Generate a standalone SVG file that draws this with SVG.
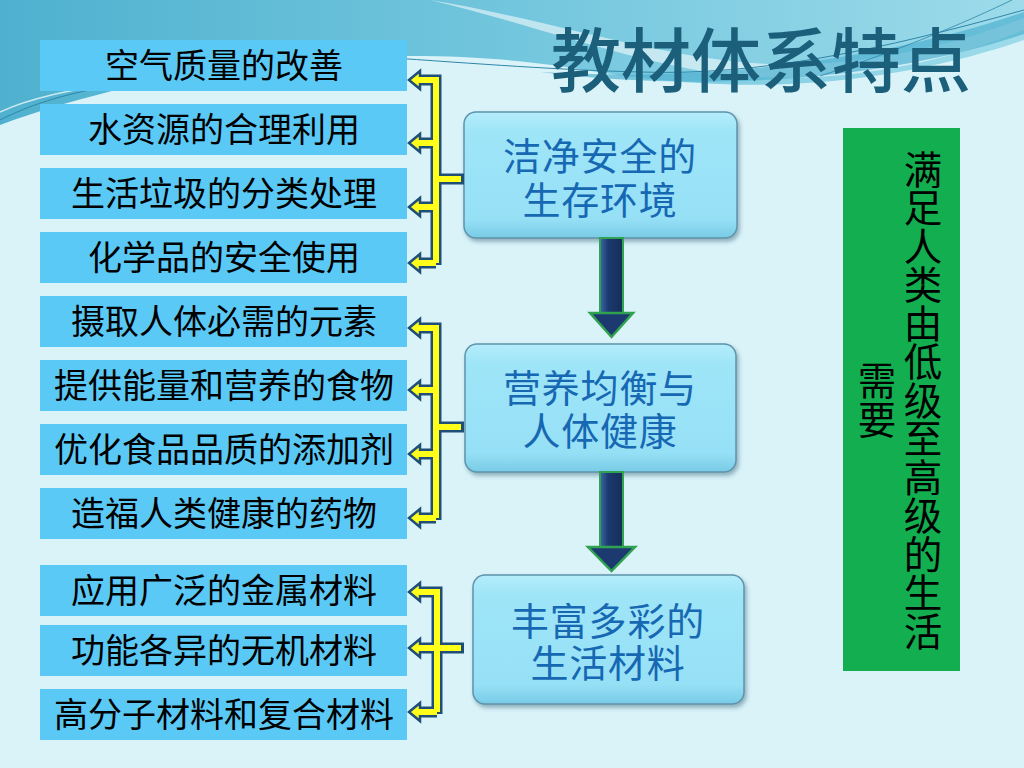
<svg xmlns="http://www.w3.org/2000/svg" width="1024" height="768" viewBox="0 0 1024 768">
<defs>
<linearGradient id="topg" x1="0" y1="0" x2="1" y2="0">
<stop offset="0" stop-color="#4fb1cf"/>
<stop offset="0.5" stop-color="#72c6dd"/>
<stop offset="1" stop-color="#9ddbea"/>
</linearGradient>
<linearGradient id="boxg" x1="0" y1="0" x2="0" y2="1">
<stop offset="0" stop-color="#b4edfb"/>
<stop offset="0.15" stop-color="#9fe5f8"/>
<stop offset="0.85" stop-color="#96e0f6"/>
<stop offset="1" stop-color="#78cbe6"/>
</linearGradient>
<linearGradient id="shaftg" x1="0" y1="0" x2="1" y2="0">
<stop offset="0" stop-color="#3d6aa8"/>
<stop offset="0.35" stop-color="#1c3a70"/>
<stop offset="1" stop-color="#152c58"/>
</linearGradient>
<filter id="sh" x="-10%" y="-10%" width="130%" height="130%">
<feDropShadow dx="2" dy="3" stdDeviation="2" flood-color="#2a5a70" flood-opacity="0.45"/>
</filter>
<style>
.lb{fill:#5bc9f6}
.lt{font-family:"Noto Sans CJK SC","Noto Sans",sans-serif;font-size:34px;fill:#000;text-anchor:middle}
.cb{fill:url(#boxg);stroke:#5f93ab;stroke-width:1.5;filter:url(#sh)}
.ct{font-family:"Noto Sans CJK SC","Noto Sans",sans-serif;font-size:38px;letter-spacing:0.8px;fill:#1668b3;text-anchor:middle}
.bo{fill:none;stroke:#1f4e79;stroke-width:11;stroke-linejoin:miter}
.by{fill:none;stroke:#ffff1a;stroke-width:6;stroke-linejoin:miter}
.hd{fill:#ffff1a;stroke:#1f4e79;stroke-width:2.5;stroke-linejoin:miter}
.sh{fill:url(#shaftg);stroke:#2fa34f;stroke-width:2}
.ah{fill:#1c3a70;stroke:#2fa34f;stroke-width:2.5;stroke-linejoin:miter}
.vt{font-family:"Noto Sans CJK SC","Noto Sans",sans-serif;font-size:38.5px;fill:#000;text-anchor:middle;writing-mode:vertical-rl}
</style>
</defs>

<g id="background">
<rect x="0" y="0" width="1024" height="768" fill="#daf3f9"/>
<path d="M0,0 H1024 V40 C960,62 880,80 790,84 C700,88 620,76 560,66 C420,46 200,52 0,125 Z" fill="url(#topg)"/>
<path d="M430,0 C540,18 640,52 740,62 C840,72 940,50 1024,18 V30 C940,64 840,84 740,76 C640,66 540,26 430,0 Z" fill="#ffffff" opacity="0.55"/>
<path d="M540,72 C700,82 880,62 1024,12 V34 C880,82 700,92 540,72 Z" fill="#4fb0d0" opacity="0.7"/>
<path d="M380,57 C480,64 560,70 640,72 C760,76 880,50 1024,10" fill="none" stroke="#2f86a8" stroke-width="1"/>
<path d="M820,76 C900,50 960,25 1012,0" fill="none" stroke="#2f86a8" stroke-width="0.8"/>
<path d="M0,120 C30,105 60,95 110,86" fill="none" stroke="#2f86a8" stroke-width="1"/>
<path d="M0,112 C30,98 70,90 120,82" fill="none" stroke="#ffffff" stroke-width="1.5" opacity="0.7"/>
</g>

<g id="title">
<text x="761" y="87" font-family="'Noto Sans CJK SC','Noto Sans',sans-serif" font-size="70" font-weight="500" fill="#1b5f7b" text-anchor="middle">教材体系特点</text>
</g>

<g id="left-items">
<g id="item1"><rect class="lb" x="40" y="40" width="367" height="51"/><text class="lt" x="224" y="77.5">空气质量的改善</text></g>
<g id="item2"><rect class="lb" x="40" y="104" width="367" height="51"/><text class="lt" x="224" y="141.5">水资源的合理利用</text></g>
<g id="item3"><rect class="lb" x="40" y="168" width="367" height="51"/><text class="lt" x="224" y="205.5">生活垃圾的分类处理</text></g>
<g id="item4"><rect class="lb" x="40" y="232" width="367" height="51"/><text class="lt" x="224" y="269.5">化学品的安全使用</text></g>
<g id="item5"><rect class="lb" x="40" y="296" width="367" height="51"/><text class="lt" x="224" y="333.5">摄取人体必需的元素</text></g>
<g id="item6"><rect class="lb" x="40" y="360" width="367" height="51"/><text class="lt" x="224" y="397.5">提供能量和营养的食物</text></g>
<g id="item7"><rect class="lb" x="40" y="424" width="367" height="51"/><text class="lt" x="224" y="461.5">优化食品品质的添加剂</text></g>
<g id="item8"><rect class="lb" x="40" y="488" width="367" height="51"/><text class="lt" x="224" y="525.5">造福人类健康的药物</text></g>
<g id="item9"><rect class="lb" x="40" y="565" width="367" height="51"/><text class="lt" x="224" y="602.5">应用广泛的金属材料</text></g>
<g id="item10"><rect class="lb" x="40" y="625" width="367" height="51"/><text class="lt" x="224" y="662.5">功能各异的无机材料</text></g>
<g id="item11"><rect class="lb" x="40" y="689" width="367" height="51"/><text class="lt" x="224" y="726.5">高分子材料和复合材料</text></g>
</g>

<g id="center-nodes">
<g id="node1"><rect class="cb" x="464" y="112" width="273" height="126" rx="12"/><text class="ct" x="600" y="170">洁净安全的</text><text class="ct" x="600" y="214">生存环境</text></g>
<g id="node2"><rect class="cb" x="465" y="344" width="271" height="128" rx="12"/><text class="ct" x="600" y="402">营养均衡与</text><text class="ct" x="600" y="445">人体健康</text></g>
<g id="node3"><rect class="cb" x="473" y="575" width="271" height="129" rx="12"/><text class="ct" x="608" y="635">丰富多彩的</text><text class="ct" x="608" y="677">生活材料</text></g>
</g>

<g id="side-note">
<rect x="843" y="128" width="117" height="543" fill="#12ae4f"/>
<text class="vt" x="923" y="400">满足人类由低级至高级的生活</text>
<text class="vt" x="877" y="400">需要</text>
</g>

<g id="connectors">
<path class="bo" d="M419,80 H436 V265 M419,143 H436 M419,207 H436 M419,263 H436 M436,179 H464"/>
<path class="bo" d="M419,328 H436 V520 M419,390 H436 M419,454 H436 M419,518 H436 M436,427 H464"/>
<path class="bo" d="M419,592 H437 V714 M419,648 H464 M419,712 H437"/>
<polygon class="hd" points="409,80 420,71 420,89"/>
<polygon class="hd" points="409,143 420,134 420,152"/>
<polygon class="hd" points="409,207 420,198 420,216"/>
<polygon class="hd" points="409,263 420,254 420,272"/>
<polygon class="hd" points="409,328 420,319 420,337"/>
<polygon class="hd" points="409,390 420,381 420,399"/>
<polygon class="hd" points="409,454 420,445 420,463"/>
<polygon class="hd" points="409,518 420,509 420,527"/>
<polygon class="hd" points="409,592 420,583 420,601"/>
<polygon class="hd" points="409,648 420,639 420,657"/>
<polygon class="hd" points="409,712 420,703 420,721"/>
<path class="by" d="M416,80 H436 V263 M416,143 H436 M416,207 H436 M416,263 H436 M436,179 H461"/>
<path class="by" d="M416,328 H436 V518 M416,390 H436 M416,454 H436 M416,518 H436 M436,427 H461"/>
<path class="by" d="M416,592 H437 V712 M416,648 H461 M416,712 H437"/>
<g id="down1"><rect class="sh" x="600" y="238" width="23" height="76"/><polygon class="ah" points="590,313 633,313 611.5,337"/></g>
<g id="down2"><rect class="sh" x="600" y="472" width="23" height="76"/><polygon class="ah" points="588,547 635,547 611.5,571"/></g>
</g>
</svg>
